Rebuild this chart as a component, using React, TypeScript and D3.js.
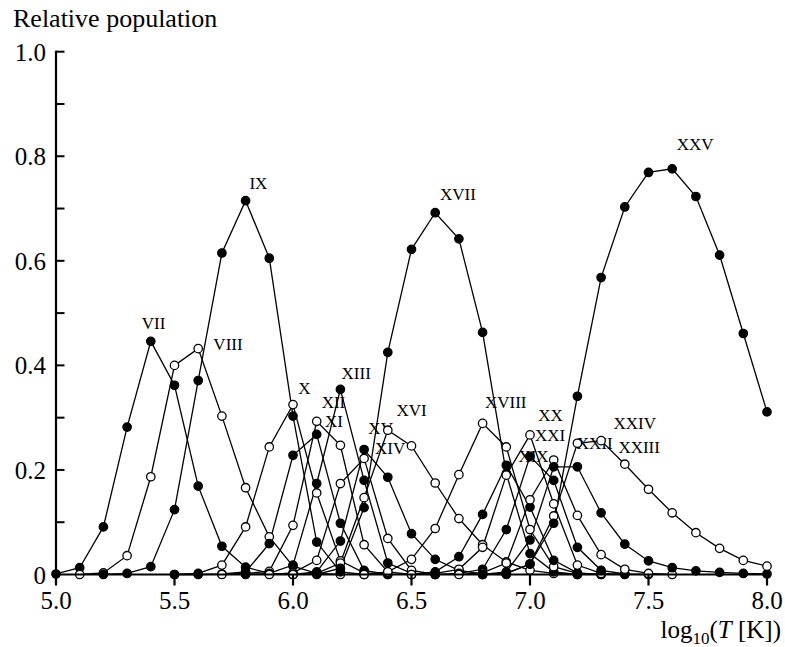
import React from "react";
import * as d3 from "d3";

// Temperature grid, log10(T [K])
const logT = [5.0, 5.1, 5.2, 5.3, 5.4, 5.5, 5.6, 5.7, 5.8, 5.9, 6.0, 6.1, 6.2, 6.3, 6.4, 6.5, 6.6, 6.7, 6.8, 6.9, 7.0, 7.1, 7.2, 7.3, 7.4, 7.5, 7.6, 7.7, 7.8, 7.9, 8.0];

// Place a run of readings on the grid starting at log T = start
const row = (start: number, values: number[]) => {
  const out: (number | null)[] = logT.map(() => null);
  const i0 = Math.round((start - 5) * 10);
  values.forEach((v, k) => { out[i0 + k] = v; });
  return out;
};

const ionNames = ["VII", "VIII", "IX", "X", "XI", "XII", "XIII", "XIV", "XV", "XVI", "XVII", "XVIII", "XIX", "XX", "XXI", "XXII", "XXIII", "XXIV", "XXV"];
const ionFilled = [true, false, true, false, true, false, true, false, true, false, true, false, true, false, true, false, true, false, true];

const fracVII = row(5.0, [0.001, 0.013, 0.091, 0.282, 0.446, 0.362, 0.169, 0.054, 0.014, 0.002, 0]);
const fracVIII = row(5.1, [0, 0.003, 0.036, 0.187, 0.4, 0.432, 0.303, 0.166, 0.072, 0.016, 0.002, 0]);
const fracIX = row(5.2, [0, 0.002, 0.015, 0.124, 0.371, 0.615, 0.715, 0.605, 0.303, 0.062, 0.005, 0]);
const fracX = row(5.5, [0, 0.002, 0.018, 0.091, 0.244, 0.325, 0.156, 0.026, 0.003, 0]);
const fracXI = row(5.5, [0, 0, 0.001, 0.005, 0.059, 0.228, 0.268, 0.098, 0.008, 0]);
const fracXII = row(5.7, [0, 0.002, 0.006, 0.094, 0.293, 0.247, 0.057, 0.005, 0]);
const fracXIII = row(5.8, [0, 0.002, 0.018, 0.174, 0.354, 0.18, 0.022, 0.002, 0]);
const fracXIV = row(5.9, [0, 0.003, 0.027, 0.174, 0.222, 0.069, 0.008, 0]);
const fracXV = row(6.0, [0, 0.005, 0.064, 0.239, 0.186, 0.078, 0.029, 0.008, 0.001, 0]);
const fracXVI = row(6.0, [0, 0.002, 0.022, 0.147, 0.276, 0.246, 0.175, 0.107, 0.057, 0.024, 0.008, 0.002, 0]);
const fracXVII = row(6.1, [0, 0.012, 0.128, 0.425, 0.622, 0.692, 0.642, 0.463, 0.193, 0.04, 0.005, 0]);
const fracXVIII = row(6.3, [0, 0.005, 0.029, 0.088, 0.191, 0.289, 0.244, 0.086, 0.015, 0.002, 0]);
const fracXIX = row(6.5, [0, 0.005, 0.034, 0.115, 0.209, 0.129, 0.027, 0.003, 0]);
const fracXX = row(6.5, [0, 0.002, 0.01, 0.052, 0.19, 0.267, 0.135, 0.018, 0.002, 0]);
const fracXXI = row(6.6, [0, 0.002, 0.01, 0.086, 0.226, 0.18, 0.052, 0.008, 0.001, 0]);
const fracXXII = row(6.7, [0, 0.003, 0.022, 0.143, 0.219, 0.113, 0.038, 0.01, 0.002, 0]);
const fracXXIII = row(6.8, [0, 0.005, 0.066, 0.206, 0.206, 0.118, 0.058, 0.026, 0.013, 0.007, 0.004, 0.002, 0.001]);
const fracXXIV = row(6.8, [0, 0.002, 0.02, 0.112, 0.251, 0.256, 0.211, 0.163, 0.118, 0.08, 0.05, 0.027, 0.016]);
const fracXXV = row(6.8, [0, 0.002, 0.02, 0.098, 0.341, 0.568, 0.703, 0.769, 0.776, 0.723, 0.611, 0.461, 0.311]);

const ionFractions = [fracVII, fracVIII, fracIX, fracX, fracXI, fracXII, fracXIII, fracXIV, fracXV, fracXVI, fracXVII, fracXVIII, fracXIX, fracXX, fracXXI, fracXXII, fracXXIII, fracXXIV, fracXXV];

// Label anchor (left, baseline) in data coordinates
const labelT = [5.362, 5.664, 5.816, 6.022, 6.135, 6.121, 6.205, 6.346, 6.318, 6.437, 6.62, 6.81, 6.951, 7.035, 7.021, 7.197, 7.373, 7.352, 7.619];
const labelF = [0.469, 0.429, 0.737, 0.345, 0.282, 0.318, 0.374, 0.231, 0.268, 0.303, 0.716, 0.318, 0.215, 0.294, 0.256, 0.241, 0.233, 0.279, 0.812];

const xTicks = [5.0, 5.5, 6.0, 6.5, 7.0, 7.5, 8.0];
const yTicks = [0.1, 0.2, 0.3, 0.4, 0.5, 0.6, 0.7, 0.8, 0.9, 1.0];
const yLabels = [0, 0.2, 0.4, 0.6, 0.8, 1.0];

const W = 785;
const H = 647;
const FONT = "'Liberation Serif', 'Times New Roman', Times, serif";

export default function App() {
  const x = d3.scaleLinear().domain([5, 8]).range([56, 767]);
  const y = d3.scaleLinear().domain([0, 1]).range([574.5, 51.7]);
  const line = d3
    .line<[number, number | null]>()
    .defined((d) => d[1] !== null)
    .x((d) => x(d[0]))
    .y((d) => y(d[1] as number));

  return (
    <svg
      width={W}
      height={H}
      style={{ position: "absolute", left: 0, top: 0, background: "#fff", fontFamily: FONT }}
    >
      {/* title */}
      <text x={13} y={26.5} fontSize={26} fill="#000">Relative population</text>

      {/* ion labels */}
      {ionNames.map((n, i) => (
        <text key={"l" + n} x={x(labelT[i])} y={y(labelF[i])} fontSize={17} fill="#000">
          {n}
        </text>
      ))}

      {/* lines */}
      {ionFractions.map((f, i) => (
        <path
          key={"p" + i}
          d={line(logT.map((t, k) => [t, f[k]] as [number, number | null])) || ""}
          fill="none"
          stroke="#000"
          strokeWidth={1.3}
        />
      ))}

      {/* markers */}
      {ionFractions.map((f, i) =>
        logT.map((t, k) =>
          f[k] === null ? null : (
            <circle
              key={"c" + i + "_" + k}
              cx={x(t)}
              cy={y(f[k] as number)}
              r={4.2}
              fill={ionFilled[i] ? "#000" : "#fff"}
              stroke="#000"
              strokeWidth={1.3}
            />
          )
        )
      )}

      {/* axes */}
      <line x1={x(5)} x2={x(5)} y1={y(0) + 1} y2={y(1) - 1} stroke="#000" strokeWidth={2.2} />
      <line x1={x(5) - 1} x2={x(8) + 1} y1={y(0)} y2={y(0)} stroke="#000" strokeWidth={2.2} />
      {yTicks.map((v) => (
        <line key={"yt" + v} x1={x(5)} x2={x(5) + 8.5} y1={y(v)} y2={y(v)} stroke="#000" strokeWidth={2} />
      ))}
      {xTicks.map((v) => (
        <line key={"xt" + v} x1={x(v)} x2={x(v)} y1={y(0)} y2={y(0) + 11} stroke="#000" strokeWidth={2.2} />
      ))}
      {yLabels.map((v) => (
        <text key={"yl" + v} x={46} y={y(v) + 9} fontSize={25} textAnchor="end" fill="#000">
          {v === 0 ? "0" : d3.format(".1f")(v)}
        </text>
      ))}
      {xTicks.map((v) => (
        <text key={"xl" + v} x={x(v)} y={608.5} fontSize={25} textAnchor="middle" fill="#000">
          {d3.format(".1f")(v)}
        </text>
      ))}
      <text x={781} y={638} fontSize={25} textAnchor="end" fill="#000">
        log
        <tspan fontSize={17} dy={6}>10</tspan>
        <tspan dy={-6}>(</tspan>
        <tspan fontStyle="italic">T</tspan>
        <tspan> [K])</tspan>
      </text>
    </svg>
  );
}
